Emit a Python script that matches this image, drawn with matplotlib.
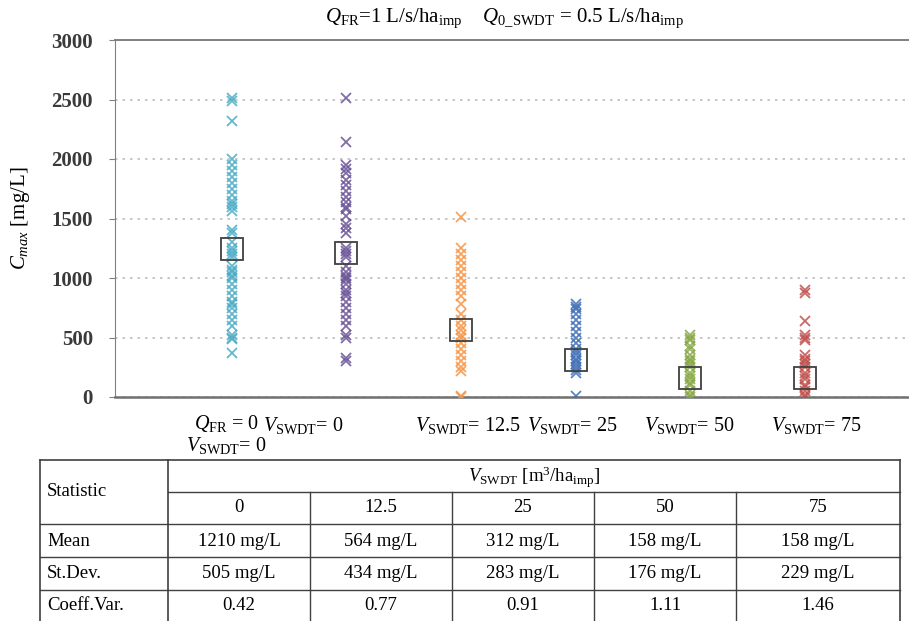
import numpy as np
import matplotlib
matplotlib.use('Agg')
from matplotlib import pyplot as plt

plt.rcParams['font.family'] = 'Liberation Serif'
plt.rcParams['mathtext.fontset'] = 'custom'
plt.rcParams['mathtext.rm'] = 'Liberation Serif'
plt.rcParams['mathtext.it'] = 'Liberation Serif:italic'
plt.rcParams['mathtext.bf'] = 'Liberation Serif:bold'

# C_max values per scenario
g_qfr0 = [2510, 2490, 2320, 2000, 1950, 1900, 1850, 1800, 1750, 1700, 1650, 1620,
          1600, 1560, 1400, 1380, 1300, 1250, 1230, 1200, 1180, 1100, 1070, 1050,
          1020, 1000, 950, 900, 850, 800, 780, 750, 700, 650, 600, 520, 500, 490, 370]
g_v0 = [2510, 2140, 1950, 1920, 1880, 1820, 1780, 1730, 1680, 1640, 1600, 1580,
        1520, 1450, 1420, 1380, 1250, 1230, 1200, 1180, 1100, 1050, 1020, 1000,
        980, 950, 900, 870, 850, 800, 750, 700, 650, 600, 520, 500, 330, 300]
g_v12 = [1510, 1250, 1200, 1150, 1100, 1050, 1000, 950, 900, 850, 780, 700, 650,
         600, 560, 520, 500, 450, 400, 350, 300, 250, 220, 10, 0]
g_v25 = [780, 760, 740, 700, 650, 600, 550, 500, 450, 400, 380, 350, 320, 300,
         280, 250, 230, 200, 10]
g_v50 = [520, 500, 480, 430, 400, 350, 320, 300, 280, 250, 200, 180, 150, 120,
         100, 50, 20, 0]
g_v75 = [900, 870, 640, 520, 500, 480, 350, 320, 300, 280, 250, 200, 180, 150,
         100, 80, 50, 20, 0]
groups = [g_qfr0, g_v0, g_v12, g_v25, g_v50, g_v75]
group_means = [1240, 1210, 564, 312, 158, 158]
colors = ['#4BACC6', '#6A5497', '#F79646', '#3F6FB5', '#86A844', '#C0504D']

cat_labels = ['$V_{\\mathrm{SWDT}}$= 0', '$V_{\\mathrm{SWDT}}$= 12.5',
              '$V_{\\mathrm{SWDT}}$= 25', '$V_{\\mathrm{SWDT}}$= 50', '$V_{\\mathrm{SWDT}}$= 75']

# table values
tab_cols = ['0', '12.5', '25', '50', '75']
tab_mean = [1210, 564, 312, 158, 158]
tab_std = [505, 434, 283, 176, 229]
tab_cv = [0.42, 0.77, 0.91, 1.11, 1.46]

W, H = 909, 621
fig = plt.figure(figsize=(W / 100, H / 100), dpi=100)

# main chart
ax = fig.add_axes([115 / W, (H - 397) / H, (W - 115) / W, 357 / H])
for i, vals in enumerate(groups):
    ax.plot(np.full(len(vals), i + 1), vals, 'x', color=colors[i], ms=6.5, mew=1.3,
            alpha=0.85, zorder=3)
ax.plot(np.arange(1, 7), group_means, 's', mfc='none', mec='#404040', ms=16,
        mew=1.3, zorder=4)

ax.set_xlim(-0.02, 6.91)
ax.set_ylim(0, 3000)
ax.set_yticks(np.arange(0, 3001, 500))
ax.set_xticks([])
ax.tick_params(axis='y', length=4, color='#808080', labelsize=15, pad=12)
for lb in ax.get_yticklabels():
    lb.set_fontweight('bold')
    lb.set_color('#3a3a3a')
ax.yaxis.grid(True, ls=(0, (1.5, 3)), color='#bdbdbd', lw=1.2)
ax.spines['right'].set_visible(False)
ax.spines['top'].set_color('#808080')
ax.spines['left'].set_color('#808080')
ax.spines['bottom'].set_color('#707070')
ax.spines['bottom'].set_linewidth(1.8)
ax.spines['top'].set_linewidth(1.4)
ax.set_ylabel('$C_{max}$ [mg/L]', fontsize=15, labelpad=14)

# overlay in pixel coordinates for title, labels and table
ov = fig.add_axes([0, 0, 1, 1], zorder=-1)
ov.set_xlim(0, W)
ov.set_ylim(H, 0)
ov.axis('off')

ov.text(505, 18, '$Q_{\\mathrm{FR}}$=1 L/s/ha$_{\\mathrm{imp}}$    '
        '$Q_{\\mathrm{0\\_SWDT}}$ = 0.5 L/s/ha$_{\\mathrm{imp}}$',
        ha='center', va='center', fontsize=15)

ov.text(226, 423, '$Q_{\\mathrm{FR}}$ = 0', ha='center', va='center', fontsize=14.5)
ov.text(226, 446, '$V_{\\mathrm{SWDT}}$= 0', ha='center', va='center', fontsize=14.5)
label_px = [303, 468, 572, 689, 816]
for x, lab in zip(label_px, cat_labels):
    ov.text(x, 425, lab, ha='center', va='center', fontsize=14.5)

# table
lc = '#404040'
col_x = [168, 310, 452, 594, 736, 900]
row_y = [460, 492, 524, 557, 590]
ov.plot([40, 900], [row_y[0]] * 2, color=lc, lw=1.2)
ov.plot([168, 900], [row_y[1]] * 2, color=lc, lw=1)
for y in row_y[2:]:
    ov.plot([40, 900], [y, y], color=lc, lw=1)
for x in [40, 168, 900]:
    ov.plot([x, x], [row_y[0], H], color=lc, lw=1.2)
for x in col_x[1:-1]:
    ov.plot([x, x], [row_y[1], H], color=lc, lw=1)

ts = 13.5
ov.text(47, 492, 'Statistic', ha='left', va='center', fontsize=ts)
ov.text(534, 477, '$V_{\\mathrm{SWDT}}$ [m$^{3}$/ha$_{\\mathrm{imp}}$]',
        ha='center', va='center', fontsize=ts)
ov.text(47, 541, 'Mean', ha='left', va='center', fontsize=ts)
ov.text(47, 574, 'St.Dev.', ha='left', va='center', fontsize=ts)
ov.text(47, 606, 'Coeff.Var.', ha='left', va='center', fontsize=ts)
for j in range(5):
    cx = (col_x[j] + col_x[j + 1]) / 2
    ov.text(cx, 508, tab_cols[j], ha='center', va='center', fontsize=ts)
    ov.text(cx, 541, f'{tab_mean[j]} mg/L', ha='center', va='center', fontsize=ts)
    ov.text(cx, 574, f'{tab_std[j]} mg/L', ha='center', va='center', fontsize=ts)
    ov.text(cx, 606, f'{tab_cv[j]:.2f}', ha='center', va='center', fontsize=ts)

fig.savefig('out.png', dpi=100)
